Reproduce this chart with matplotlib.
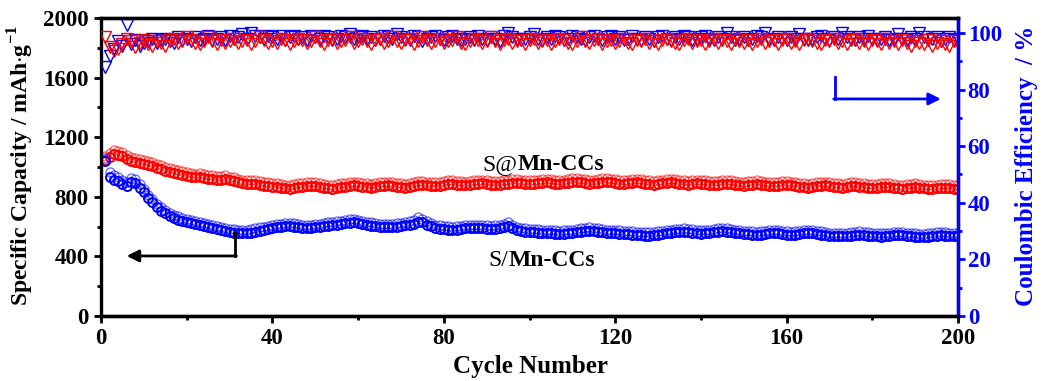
import numpy as np
import matplotlib
matplotlib.use("Agg")
import matplotlib.pyplot as plt
from matplotlib.ticker import MultipleLocator

# ---------- Data ----------
cycles = list(range(1, 201))

# S@Mn-CCs capacity, mAh/g (upper = open light circles, lower = dense circles)
s_at_hi = [
    1075, 1095, 1115, 1110, 1100, 1080, 1068, 1058, 1052, 1046, 1040, 1032, 1022, 1012, 1002, 994, 986, 978, 972, 966,
    960, 956, 962, 955, 946, 944, 940, 942, 946, 936, 930, 922, 916, 912, 916, 910, 905, 900, 896, 894,
    890, 886, 882, 880, 884, 890, 894, 898, 900, 896, 890, 886, 882, 880, 884, 890, 895, 900, 902, 898,
    894, 890, 888, 892, 896, 900, 902, 898, 894, 890, 888, 892, 898, 904, 906, 902, 898, 896, 900, 906,
    910, 912, 908, 904, 902, 906, 910, 914, 916, 912, 908, 904, 906, 910, 914, 918, 920, 916, 912, 910,
    912, 916, 920, 922, 918, 914, 912, 916, 920, 924, 926, 922, 918, 914, 916, 920, 924, 926, 922, 918,
    914, 912, 916, 920, 922, 918, 914, 910, 908, 912, 916, 920, 922, 918, 914, 910, 908, 912, 916, 914,
    910, 906, 904, 908, 912, 914, 910, 906, 902, 900, 904, 908, 910, 906, 902, 898, 896, 900, 904, 906,
    902, 898, 894, 890, 888, 892, 896, 900, 902, 898, 894, 890, 888, 892, 896, 898, 894, 890, 886, 884,
    888, 892, 894, 890, 886, 882, 880, 884, 888, 890, 886, 882, 880, 878, 882, 886, 888, 884, 880, 878,
]
s_at_lo = [
    1050, 1070, 1085, 1082, 1072, 1055, 1042, 1032, 1026, 1020, 1014, 1006, 996, 986, 976, 968, 960, 952, 946, 940,
    934, 930, 934, 928, 920, 918, 914, 916, 918, 910, 904, 896, 890, 886, 888, 884, 879, 874, 870, 868,
    864, 860, 856, 854, 858, 864, 868, 872, 874, 870, 864, 860, 856, 854, 858, 864, 869, 874, 876, 872,
    868, 864, 862, 866, 870, 874, 876, 872, 868, 864, 862, 866, 872, 878, 880, 876, 872, 870, 874, 880,
    884, 886, 882, 878, 876, 880, 884, 888, 890, 886, 882, 878, 880, 884, 888, 892, 894, 890, 886, 884,
    886, 890, 894, 896, 892, 888, 886, 890, 894, 898, 900, 896, 892, 888, 890, 894, 898, 900, 896, 892,
    888, 886, 890, 894, 896, 892, 888, 884, 882, 886, 890, 894, 896, 892, 888, 884, 882, 886, 890, 888,
    884, 880, 878, 882, 886, 888, 884, 880, 876, 874, 878, 882, 884, 880, 876, 872, 870, 874, 878, 880,
    876, 872, 868, 864, 862, 866, 870, 874, 876, 872, 868, 864, 862, 866, 870, 872, 868, 864, 860, 858,
    862, 866, 868, 864, 860, 856, 854, 858, 862, 864, 860, 856, 854, 852, 856, 860, 862, 858, 854, 852,
]

# S/Mn-CCs capacity, mAh/g
s_mn_hi = [
    1060, 965, 945, 935, 910, 900, 925, 918, 885, 855, 815, 785, 755, 730, 710, 694, 680, 668, 658, 650,
    644, 638, 632, 626, 620, 614, 606, 598, 592, 586, 582, 578, 576, 578, 582, 588, 594, 600, 606, 612,
    616, 620, 624, 626, 622, 616, 612, 610, 612, 616, 620, 624, 628, 632, 636, 640, 644, 648, 650, 646,
    640, 634, 628, 624, 620, 618, 616, 618, 622, 626, 630, 636, 644, 662, 650, 636, 624, 614, 608, 604,
    602, 600, 602, 606, 610, 612, 614, 612, 610, 608, 606, 608, 612, 618, 632, 612, 600, 592, 588, 586,
    584, 582, 580, 578, 576, 574, 572, 574, 576, 580, 584, 588, 592, 594, 592, 588, 584, 580, 578, 576,
    574, 572, 570, 568, 566, 564, 562, 562, 564, 568, 572, 576, 580, 584, 586, 588, 586, 582, 578, 574,
    576, 580, 584, 588, 590, 588, 584, 580, 576, 572, 570, 568, 566, 568, 572, 576, 578, 576, 572, 568,
    566, 568, 572, 576, 578, 576, 572, 568, 564, 560, 558, 556, 556, 558, 562, 566, 568, 566, 562, 558,
    556, 554, 556, 560, 564, 566, 564, 560, 556, 554, 552, 552, 554, 558, 562, 564, 562, 560, 558, 556,
]
s_mn_lo = [
    1040, 935, 915, 905, 885, 875, 898, 890, 860, 830, 792, 762, 734, 708, 688, 672, 658, 646, 636, 628,
    622, 616, 610, 604, 598, 592, 584, 576, 570, 564, 560, 556, 554, 556, 560, 566, 572, 578, 584, 590,
    594, 598, 602, 604, 600, 594, 590, 588, 590, 594, 598, 602, 606, 610, 614, 618, 622, 626, 628, 624,
    618, 612, 606, 602, 598, 596, 594, 596, 600, 604, 608, 614, 620, 630, 628, 614, 602, 592, 586, 582,
    580, 578, 580, 584, 588, 590, 592, 590, 588, 586, 584, 586, 590, 596, 606, 590, 578, 570, 566, 564,
    562, 560, 558, 556, 554, 552, 550, 552, 554, 558, 562, 566, 570, 572, 570, 566, 562, 558, 556, 554,
    552, 550, 548, 546, 544, 542, 540, 540, 542, 546, 550, 554, 558, 562, 564, 566, 564, 560, 556, 552,
    554, 558, 562, 566, 568, 566, 562, 558, 554, 550, 548, 546, 544, 546, 550, 554, 556, 554, 550, 546,
    544, 546, 550, 554, 556, 554, 550, 546, 542, 538, 536, 534, 534, 536, 540, 544, 546, 544, 540, 536,
    534, 532, 534, 538, 542, 544, 542, 538, 534, 532, 530, 530, 532, 536, 540, 542, 540, 538, 536, 534,
]

# Coulombic efficiency, %
ce_s_at = [
    98.5, 95.0, 93.5, 94.5, 96.0, 98.0, 97.0, 95.0, 96.5, 97.5, 96.0, 95.5, 97.0, 96.5, 95.5, 97.5, 98.0, 96.5, 97.0, 98.5,
    97.5, 96.5, 96.0, 97.0, 98.5, 97.0, 96.0, 97.5, 96.5, 97.0, 98.0, 96.5, 97.0, 97.5, 96.0, 97.0, 98.5, 97.5, 96.5, 97.0,
    96.5, 98.0, 97.5, 96.0, 97.0, 98.0, 97.5, 96.5, 97.0, 98.5, 97.0, 96.0, 97.5, 98.0, 96.5, 97.0, 97.5, 98.5, 96.5, 97.0,
    98.0, 97.0, 96.0, 97.5, 98.0, 96.5, 97.0, 98.5, 97.0, 96.5, 97.5, 98.0, 96.0, 97.0, 98.5, 97.5, 96.5, 97.0, 98.0, 96.5,
    97.0, 97.5, 98.5, 96.5, 96.0, 97.0, 98.0, 97.5, 96.5, 97.0, 98.5, 97.0, 96.0, 97.5, 98.0, 96.5, 97.0, 97.5, 96.0, 97.5,
    98.0, 96.5, 97.0, 97.5, 96.0, 97.0, 98.0, 97.5, 96.5, 96.0, 97.0, 98.5, 97.0, 96.5, 97.5, 98.0, 96.0, 97.0, 97.5, 96.5,
    97.0, 98.0, 96.5, 96.0, 97.5, 97.0, 98.0, 96.5, 97.0, 96.0, 97.5, 98.0, 97.0, 96.5, 96.0, 97.5, 98.0, 96.5, 97.0, 97.5,
    96.0, 97.0, 98.0, 96.5, 97.5, 97.0, 96.0, 98.0, 97.0, 96.5, 97.5, 96.0, 97.0, 98.0, 96.5, 97.0, 97.5, 96.0, 97.5, 98.0,
    96.5, 97.0, 96.0, 97.5, 98.0, 97.0, 96.5, 96.0, 97.5, 97.0, 98.0, 96.5, 97.0, 96.0, 97.5, 98.0, 96.5, 97.0, 96.0, 97.5,
    97.0, 96.0, 98.0, 96.5, 97.0, 96.0, 97.5, 96.5, 95.5, 97.0, 96.5, 96.0, 97.5, 95.5, 96.5, 97.0, 96.0, 95.5, 97.0, 96.5,
]
ce_s_mn = [
    88.0, 92.0, 94.5, 97.0, 95.5, 103.0, 96.0, 97.5, 95.5, 96.5, 97.0, 98.0, 96.5, 97.5, 98.0, 97.0, 96.5, 98.5, 97.5, 98.0,
    97.0, 98.5, 97.5, 98.0, 99.0, 97.5, 98.0, 98.5, 97.5, 99.0, 98.0, 98.5, 99.5, 98.0, 100.0, 99.0, 98.5, 98.0, 99.0, 98.5,
    98.0, 99.0, 97.5, 98.5, 99.0, 98.0, 98.5, 97.5, 99.0, 98.5, 98.0, 99.0, 98.5, 97.5, 98.0, 99.0, 98.5, 99.5, 98.0, 98.5,
    99.0, 98.0, 98.5, 97.5, 98.0, 99.0, 98.5, 98.0, 99.5, 98.5, 98.0, 97.5, 99.0, 98.5, 97.0, 98.0, 98.5, 99.0, 98.0, 97.5,
    98.5, 99.0, 98.0, 97.5, 98.0, 98.5, 97.5, 99.0, 98.0, 97.5, 98.5, 98.0, 97.0, 99.0, 100.0, 98.5, 98.0, 97.5, 98.0, 98.5,
    99.5, 98.0, 97.5, 98.5, 98.0, 99.0, 98.5, 97.5, 98.0, 99.0, 98.5, 98.0, 97.5, 98.5, 99.0, 98.0, 97.5, 98.5, 99.0, 98.0,
    98.5, 97.5, 98.0, 99.0, 98.0, 97.5, 98.5, 98.0, 97.0, 98.5, 99.0, 98.0, 97.5, 98.5, 98.0, 99.0, 98.5, 97.5, 98.0, 98.5,
    99.0, 98.0, 97.5, 98.5, 98.0, 100.0, 98.5, 97.5, 98.0, 98.5, 97.5, 98.0, 99.0, 98.5, 100.0, 98.0, 97.5, 98.5, 98.0, 97.5,
    98.5, 98.0, 99.5, 98.0, 97.5, 98.0, 98.5, 99.0, 98.0, 97.5, 98.5, 98.0, 100.0, 98.5, 98.0, 97.5, 98.5, 98.0, 99.0, 98.0,
    97.5, 98.0, 98.5, 97.5, 98.0, 99.5, 98.0, 97.5, 98.5, 98.0, 100.0, 98.5, 97.5, 98.0, 98.5, 97.0, 98.0, 98.5, 97.5, 98.0,
]

RED = "#ff0000"
BLUE = "#0000ff"

plt.rcParams.update({
    "font.family": "Liberation Serif",
    "font.weight": "bold",
    "font.size": 16,
    "mathtext.fontset": "custom",
    "mathtext.rm": "Liberation Serif",
    "mathtext.bf": "Liberation Serif:bold",
})

fig = plt.figure(figsize=(10.43, 3.81), dpi=100)
ax = fig.add_axes([101 / 1043, 65 / 381, 857 / 1043, 298 / 381])
ax2 = ax.twinx()

circ = dict(linestyle="none", marker="o", markersize=6.5, markerfacecolor="none")
ax.plot(cycles, s_at_hi, color=RED, markeredgewidth=0.9, alpha=0.6, **circ)
ax.plot(cycles, s_at_lo, color=RED, markeredgewidth=1.4, **circ)
ax.plot(cycles, s_mn_hi, color=BLUE, markeredgewidth=0.9, alpha=0.6, **circ)
ax.plot(cycles, s_mn_lo, color=BLUE, markeredgewidth=1.4, **circ)

tri = dict(linestyle="none", marker="v", markersize=8, markerfacecolor="none", markeredgewidth=1.0)
ax2.plot(cycles, ce_s_mn, color=BLUE, **tri)
ax2.plot(cycles, ce_s_at, color=RED, **tri)

ax.set_xlim(0, 200)
ax.set_ylim(0, 2000)
ax2.set_ylim(0, 105.3)

ax.xaxis.set_major_locator(MultipleLocator(40))
ax.xaxis.set_minor_locator(MultipleLocator(20))
ax.yaxis.set_major_locator(MultipleLocator(400))
ax.yaxis.set_minor_locator(MultipleLocator(200))
ax2.yaxis.set_major_locator(MultipleLocator(20))
ax2.yaxis.set_minor_locator(MultipleLocator(10))

for a in (ax, ax2):
    for s in a.spines.values():
        s.set_linewidth(2.4)
ax2.spines["right"].set_color(BLUE)
ax2.spines["left"].set_visible(False)

ax.tick_params(axis="both", which="major", direction="out", length=5, width=2, labelsize=16.5, pad=4)
ax.tick_params(axis="both", which="minor", direction="out", length=3, width=2)
ax.tick_params(top=False, which="both")
ax2.tick_params(axis="y", which="major", direction="out", length=5, width=2, colors=BLUE, labelsize=16.5, pad=2)
ax2.tick_params(axis="y", which="minor", direction="out", length=3, width=2, colors=BLUE)

fig.text(530 / 1043, 1 - 366 / 381, "Cycle Number", ha="center", va="center", fontsize=18)
fig.text(21 / 1043, 1 - 166 / 381, r"Specific Capacity / mAh$\cdot$g$^{-1}$",
         rotation=90, ha="center", va="center", fontsize=17)
fig.text(1026 / 1043, 1 - 166 / 381, "Coulombic Efficiency  / %",
         rotation=90, ha="center", va="center", fontsize=18, color=BLUE)

# sample labels: plain prefix + bold material name
t1 = ax.text(89, 980, "S@", fontsize=17, fontweight="normal", ha="left", va="baseline")
ax.annotate("Mn-CCs", xy=(1, 0), xycoords=t1, va="bottom", fontsize=17, fontweight="bold")
t2 = ax.text(90.5, 335, "S/", fontsize=17, fontweight="normal", ha="left", va="baseline")
ax.annotate("Mn-CCs", xy=(1, 0), xycoords=t2, va="bottom", fontsize=17, fontweight="bold")

# arrows pointing to the axes
ax.plot([31.3, 31.3], [564, 403], color="black", lw=2)
ax.annotate("", xy=(6.0, 403), xytext=(31.6, 403),
            arrowprops=dict(arrowstyle="-|>", lw=2, color="black", mutation_scale=18, shrinkA=0, shrinkB=0))
ax2.plot([171.3, 171.3], [84.5, 76.7], color=BLUE, lw=2)
ax2.annotate("", xy=(196, 76.7), xytext=(171.0, 76.7),
             arrowprops=dict(arrowstyle="-|>", lw=2, color=BLUE, mutation_scale=18, shrinkA=0, shrinkB=0))

fig.savefig("out.png", dpi=100)
